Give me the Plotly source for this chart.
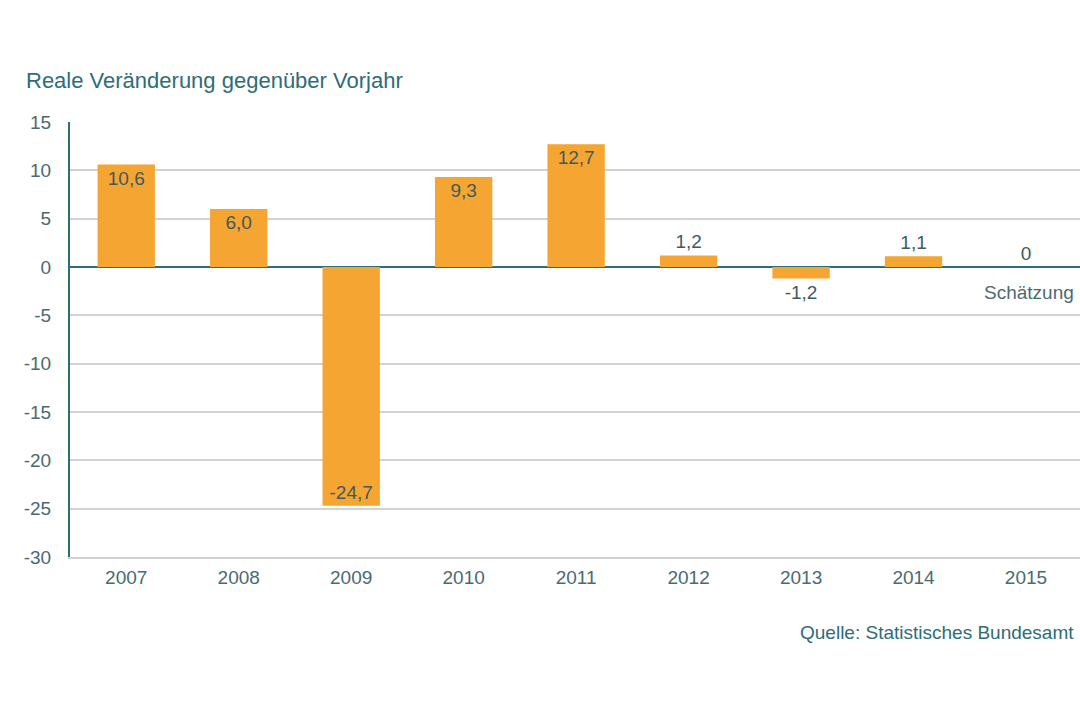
import plotly.graph_objects as go

years = ["2007", "2008", "2009", "2010", "2011", "2012", "2013", "2014", "2015"]
values = [10.6, 6.0, -24.7, 9.3, 12.7, 1.2, -1.2, 1.1, 0]
label_text = ["10,6", "6,0", "-24,7", "9,3", "12,7", "1,2", "-1,2", "1,1", "0"]
y_ticks = [15, 10, 5, 0, -5, -10, -15, -20, -25, -30]
y_tick_text = ["15", "10", "5", "0", "-5", "-10", "-15", "-20", "-25", "-30"]

BAR = "#f5a532"
TEAL = "#2e6d76"
TXT = "#4b6a70"
LBL = "#405a5e"
FONT = "Liberation Sans, Arial, sans-serif"
FS = 19

positions = ["inside" if abs(v) > 3 else "outside" for v in values]

fig = go.Figure()
fig.add_trace(go.Bar(
    x=list(range(len(years))), y=values,
    marker=dict(color=BAR, line=dict(width=0)),
    width=0.51,
    text=label_text, textposition=positions,
    insidetextanchor="end", constraintext="none", cliponaxis=False,
    textfont=dict(family=FONT, size=FS, color=LBL),
    outsidetextfont=dict(family=FONT, size=FS, color=LBL),
    insidetextfont=dict(family=FONT, size=FS, color=LBL),
    hoverinfo="skip",
))

fig.update_layout(
    width=1080, height=720,
    margin=dict(l=70, r=0, t=122, b=163),
    paper_bgcolor="white", plot_bgcolor="white",
    showlegend=False,
    font=dict(family=FONT, size=FS, color=TXT),
    xaxis=dict(
        range=[-0.5, 8.48], tickmode="array",
        tickvals=list(range(len(years))), ticktext=years,
        showgrid=False, zeroline=False,
        showline=True, linecolor="#d2d2d2", linewidth=2,
        ticks="", tickfont=dict(family=FONT, size=FS, color=TXT),
        ticklabelstandoff=2,
    ),
    yaxis=dict(
        range=[-30, 15], tickmode="array",
        tickvals=y_ticks, ticktext=y_tick_text,
        showgrid=True, gridcolor="#d2d2d2", gridwidth=2,
        zeroline=True, zerolinecolor=TEAL, zerolinewidth=2,
        showline=True, linecolor=TEAL, linewidth=2,
        ticks="", tickfont=dict(family=FONT, size=FS, color=TXT),
        ticklabelstandoff=13,
    ),
    annotations=[
        dict(text="Reale Veränderung gegenüber Vorjahr", xref="paper", yref="paper",
             x=(24 - 70) / 1010, y=(557 - 80) / 435, xanchor="left", yanchor="middle",
             showarrow=False, font=dict(family=FONT, size=22, color=TEAL)),
        dict(text="Schätzung", xref="x", yref="y", x=8.03, y=-2.6,
             xanchor="center", yanchor="middle", showarrow=False,
             font=dict(family=FONT, size=FS, color=TXT)),
        dict(text="Quelle: Statistisches Bundesamt", xref="paper", yref="paper",
             x=(1076 - 70) / 1010, y=(557 - 632) / 435, xanchor="right", yanchor="middle",
             showarrow=False, font=dict(family=FONT, size=FS, color=TEAL)),
    ],
)

fig.write_html("out.html")
